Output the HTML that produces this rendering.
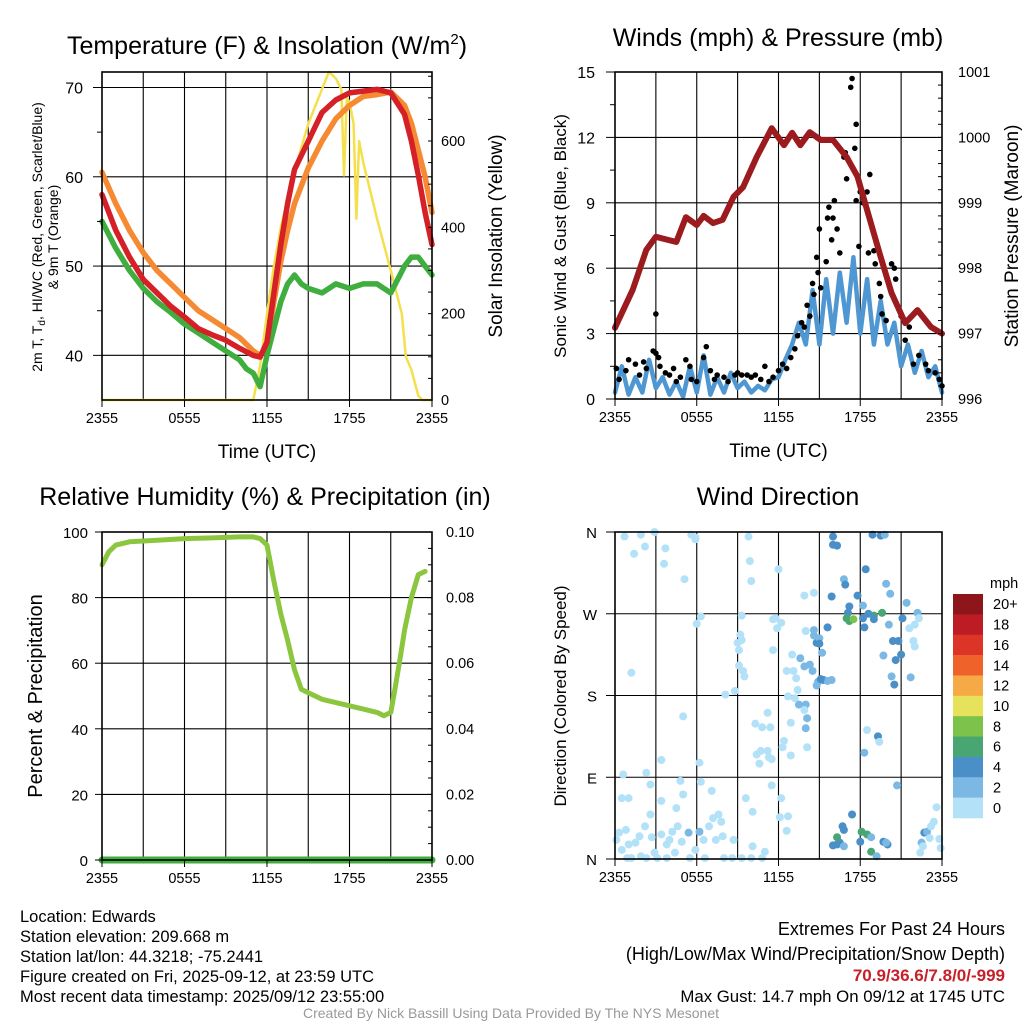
<!DOCTYPE html>
<html><head><meta charset="utf-8"><style>
html,body{margin:0;padding:0;background:#fff;}
svg{display:block;font-family:"Liberation Sans",sans-serif;}
</style></head><body>
<svg id="c" width="1024" height="1024" viewBox="0 0 1024 1024" xmlns="http://www.w3.org/2000/svg"></svg>
<script>
// ---------- DATA ----------
const timeTicks = ["2355","0555","1155","1755","2355"];
// Temperature panel (hours since 2355)
const redHours   = [0,1,2,3,4,5,6,7,8,9,10,11,11.5,12,12.5,13,13.5,14,15,16,17,18,19,20,21,22,22.5,23,23.5,24];
const redTemp    = [58,54,51,48.5,47,45.5,44.3,43,42.3,41.7,40.8,40,39.8,41.5,47,52.4,57,60.8,64,67.2,68.6,69.4,69.6,69.8,69.4,67,64,60.2,56,52.4];
const orangeHours= [0,1,2,3,4,5,6,7,8,9,10,11,11.5,12,12.5,13,13.5,14,15,16,17,18,19,20,21,22,22.5,23,23.5,24];
const orangeTemp = [60.5,57,54,51.5,49.5,48,46.5,45,44,43,42,40.5,40,41,46,50.5,54,57,61,64,66.5,68,69,69.2,69.5,68,66,63,60,56];
const greenHours = [0,1,2,3,4,5,6,7,8,9,10,10.5,11,11.5,12,12.5,13,13.5,14,14.5,15,16,17,18,19,20,21,22,22.5,23,23.5,24];
const greenTemp  = [55,52,49.5,47.5,46,44.8,43.5,42.5,41.5,40.5,39.5,38.5,38,36.5,40,43,46,48,49,48,47.5,47,48,47.5,48,48,47,50,51,51,50,49];
const solarHours = [0,11,11.5,12,12.5,13,14,15,16,16.5,17,17.4,17.6,17.8,18,18.3,18.5,18.7,19,20,21,21.8,22.1,22.5,23,23.3,24];
const solarVals  = [0,0,80,200,310,400,530,640,720,760,745,720,520,700,690,640,420,600,550,420,300,200,100,70,10,0,0];
const tempTicks  = [40,50,60,70];
const solarTicks = [0,200,400,600];
// Winds panel
const presHours = [0,1.3,2.3,3,4.5,5.2,6,6.5,7.2,7.9,8.7,9.4,10.4,11.5,12.4,13,13.6,14.3,15.1,16,17,17.8,18.5,19.5,20.3,21.3,22.2,23.2,24];
const presVals  = [997.09,997.67,998.28,998.48,998.4,998.78,998.66,998.8,998.69,998.74,999.09,999.24,999.7,1000.14,999.88,1000.07,999.88,1000.08,999.96,999.96,999.7,999.4,998.89,998.17,997.62,997.16,997.36,997.1,997.0];
const windHours = [0,0.5,1,1.5,2,2.5,3,3.5,4,4.5,5,5.5,6,6.5,7,7.5,8,8.5,9,9.5,10,10.5,11,11.5,12,12.5,13,13.5,14,14.5,15,15.5,16,16.5,17,17.5,18,18.5,19,19.5,20,20.5,21,21.5,22,22.5,23,23.5,24];
const windVals  = [0.3,1.5,0.2,1.0,0.3,1.8,0.5,1.0,0.2,0.8,0.1,1.5,0.3,2.0,0.2,1.0,0.3,1.2,0.5,0.8,0.3,0.6,0.4,0.9,1.0,1.8,2.5,3.5,2.5,5,2.5,5.5,3,5.8,3.5,6.5,3,5.5,2.5,4.5,2.5,3.5,1.5,2.5,1.2,2.2,1.0,1.5,0.3];
const gustHours = [0.1,0.3,0.8,1.0,1.5,1.8,2.1,2.3,2.8,3.0,3.0,3.2,3.3,3.7,4.0,4.3,4.5,4.8,5.2,5.5,5.6,6.0,6.5,6.7,7.0,7.3,7.5,8.0,8.3,8.8,9.0,9.3,9.7,10.0,10.3,10.7,11.0,11.3,11.6,12.0,12.3,12.6,12.9,13.2,13.4,13.7,13.9,14.1,14.3,14.5,14.6,14.8,14.9,15.0,15.1,15.5,15.6,15.7,15.9,16.0,16.1,16.3,16.5,16.8,16.9,17.0,17.3,17.4,17.6,17.7,17.7,17.9,18.0,18.2,18.5,18.7,18.6,19.0,19.1,19.4,19.5,19.6,19.9,20.3,20.5,20.6,21.0,21.3,21.6,21.9,22.3,22.8,23.0,23.5,23.8,24.0];
const gustVals  = [1.4,0.9,1.3,1.8,1.6,1.1,1.7,1.4,2.2,3.9,2.1,1.9,1.5,1.2,1.1,1.4,0.8,1.0,1.8,1.5,0.9,0.8,1.9,2.4,1.3,0.9,1.1,1.0,0.8,1.1,1.2,1.1,1.1,1.0,1.1,0.9,1.5,0.8,1.0,1.3,1.6,1.4,1.9,2.3,2.9,3.5,3.3,4.3,3.8,5.3,4.8,6.5,5.8,7.8,5.1,6.3,8.3,8.8,7.3,8.3,9.1,7.8,6.7,11.1,11.3,10.1,14.3,14.7,11.5,12.6,9.1,7.0,9.5,9.0,9.5,10.3,6.7,6.8,6.2,5.3,4.7,3.9,3.6,6.2,6.0,5.5,3.8,2.7,3.3,1.6,2.0,1.6,1.3,1.2,0.9,0.6];
const windTicks = [0,3,6,9,12,15];
const presTicks = [996,997,998,999,1000,1001];
// Humidity panel
const rhHours = [0,0.5,1,2,4,6,8,10,11,11.5,12,12.5,13,13.5,14,14.5,15,16,17,18,19,20,20.5,21,21.3,21.7,22,22.5,23,23.5];
const rhVals  = [90,94,96,97,97.5,98,98.2,98.5,98.5,98,96,85,75,67,58,52,51,49,48,47,46,45,44,45,52,62,70,80,87,88];
const precipHours = [0,24];
const precipVals  = [0,0];
const rhTicks = [0,20,40,60,80,100];
const precipTicks = ["0.00","0.02","0.04","0.06","0.08","0.10"];
// Wind direction panel
const dirLabels = ["N","E","S","W","N"];
const dirHours = [0.7,1.9,2.9,5.6,5.9,2.2,1.4,3.7,3.6,5.1,5.9,9.8,9.9,10,12.0,13.9,14.6,16.0,16.0,16.3,18.9,19.5,19.8,18.4,16.8,16.9,15.9,17.8,18.2,19.9,20.2,21.4,22.2,22.3,21.1,17.2,17.1,17.0,17.2,17.5,19.0,19.6,18.2,18.3,18.6,19.0,20.1,22.0,21.6,21.9,22.0,20.4,20.8,21.0,20.6,21.7,20.3,20.5,19.7,19.3,19.4,18.5,18.3,20.7,
13.6,13.9,14.3,14.5,14.8,14.6,15.6,14.6,15.0,15.0,15.2,15.3,15.6,15.9,14.8,14.9,15.1,13.1,13.3,13.4,12.7,13.5,14.0,14.1,14.0,13.9,12.9,14.1,12.4,12.3,12.9,11.2,10.3,10.8,11.4,10.4,10.7,11.2,11.3,10.6,11.5,13.2,12.6,11.6,12.2,11.6,11.9,11.8,14.0,13.0,
8.1,8.8,9.1,9.2,9.3,9.0,9.1,9.4,9.5,9.3,6.0,6.3,5.0,1.2,0.6,2.3,3.4,6.2,0.5,1.0,2.6,3.4,4.8,5.0,6.3,7.1,7.8,9.6,10.1,11.5,12.2,12.1,12.6,12.7,
0.1,0.3,0.5,0.8,1.0,1.2,1.5,1.8,1.9,2.2,2.6,2.7,2.9,3.1,3.4,3.8,4.0,4.2,4.4,4.5,4.6,4.9,5.5,5.4,6.2,6.6,6.9,7.2,7.4,7.6,8.0,8.6,8.7,9.3,10.0,10.1,10.8,11.0,0.9,2.3,3.8,5.9,6.5,7.9,
16.7,16.8,16.3,16.5,16.8,16.0,16.3,18.0,18.1,18.5,18.8,18.8,19.2,19.7,20.0,19.9,17.4,
22.5,22.7,22.9,23.2,23.4,23.6,23.8,23.9,22.4,22.6,23.1];
const dirDegs = [355,357,360,357,352,344,336,342,325,308,354,355,328,306,319,290,293,355,346,345,357,356,357,319,308,302,289,290,279,303,292,282,271,265,265,278,271,265,262,264,268,271,265,255,270,264,258,258,254,240,234,240,240,225,219,200,201,192,224,135,129,142,117,81,
221,212,214,207,238,246,255,252,243,237,227,197,196,197,191,195,198,207,199,186,179,170,170,155,144,164,150,123,130,123,114,161,149,145,145,115,119,119,112,105,110,177,207,230,260,264,254,265,251,225,
181,185,230,247,241,238,213,207,201,268,259,267,157,205,93,95,109,106,67,67,82,64,86,71,85,75,41,67,52,81,67,46,31,47,
21,29,10,32,16,1,18,25,3,36,49,24,7,1,27,16,21,30,7,56,36,19,1,29,30,1,36,45,21,49,1,1,21,1,1,14,1,8,1,1,1,10,21,25,
36,32,16,18,14,15,24,19,30,27,24,8,3,19,16,18,49,
18,29,30,36,41,57,22,12,7,14,23];
const dirSpeeds = [0,0,0,0,0,0,0,0,0,0,0,0,0,0,0,0,1,4,4,4,4,4,2,4,2,4,4,4,2,2,2,2,2,0,4,4,4,6,6,8,6,6,4,4,4,4,2,0,0,0,0,4,4,4,4,2,2,4,2,4,0,0,2,2,
2,2,2,2,4,2,4,2,2,4,2,4,2,2,2,2,4,0,0,0,0,2,2,2,2,0,0,0,0,0,0,0,0,0,0,0,0,0,0,0,0,0,0,0,0,0,0,0,0,0,
0,0,0,0,0,0,0,0,0,0,0,0,0,0,0,0,0,0,0,0,0,0,0,0,0,0,0,0,0,0,0,0,0,0,
0,0,0,0,0,0,0,0,0,0,0,0,0,0,0,0,0,0,0,0,0,0,0,2,2,0,0,0,0,0,0,0,0,0,0,0,0,0,0,0,0,0,1,0,
4,4,4,4,2,4,6,4,6,6,2,6,2,4,4,2,4,
2,4,2,0,0,0,0,0,0,0,0];
const speedLabels = ["20+","18","16","14","12","10","8","6","4","2","0"];
const speedColors = ["#b3e1f8","#7bb9e4","#4a8fc7","#48a672","#7cc24b","#e7e25b","#f6aa46","#ef6229","#dc3427","#bd1c24","#8e151a"];

// ---------- DRAW ----------
const NS="http://www.w3.org/2000/svg";
const svg=document.getElementById('c');
function el(tag,attrs,parent){const e=document.createElementNS(NS,tag);for(const k in attrs)e.setAttribute(k,attrs[k]);(parent||svg).appendChild(e);return e;}
function txt(s,attrs,parent){const e=el('text',attrs,parent);e.textContent=s;return e;}
function lin(a,b,c,d){return (v)=>c+(v-a)*(d-c)/(b-a);}

function frame(name){
  const g=el('g',{});
  
  
  return g;
}
function grid(g,x0,x1,y0,y1,ys){
  for(let i=1;i<8;i++){const x=x0+(x1-x0)*i/8;el('line',{x1:x,x2:x,y1:y0,y2:y1,stroke:'#000','stroke-width':1.1},g);}
  ys.forEach(y=>el('line',{x1:x0,x2:x1,y1:y,y2:y,stroke:'#000','stroke-width':1.1},g));
}
function border(g,x0,x1,y0,y1){el('rect',{x:x0,y:y0,width:x1-x0,height:y1-y0,fill:'none',stroke:'#000','stroke-width':1.6},g);}
function timeAxis(g,x0,x1,y1,title){
  const ax=el('g',{},g);
  
  
  timeTicks.forEach((t,i)=>{const x=x0+(x1-x0)*i/4;txt(t,{x:x,y:y1+23,'font-size':14.5,'text-anchor':'middle'},ax);el('line',{x1:x,x2:x,y1:y1,y2:y1+7,stroke:'#000'},ax);});
  if(title){const t=txt('Time (UTC)',{x:(x0+x1)/2,y:y1+58,'font-size':19,'text-anchor':'middle'},ax);}
}
function path(g,xs,ys,X,Y,color,w,name){
  let d='';xs.forEach((h,i)=>{d+=(i?'L':'M')+X(h).toFixed(1)+','+Y(ys[i]).toFixed(1);});
  const p=el('path',{d:d,fill:'none',stroke:color,'stroke-width':w,'stroke-linejoin':'round','stroke-linecap':'round'},g);
  
  
  return p;
}
function rotText(s,x,y,size,g,name){const t=txt(s,{x:0,y:0,'font-size':size,'text-anchor':'middle',transform:`translate(${x},${y}) rotate(-90)`},g);return t;}
function title(s,x,y,name){const t=txt(s,{x:x,y:y,'font-size':25,'text-anchor':'middle'});return t;}

// Panel 1
(function(){
  const x0=102,x1=432,y0=72,y1=400;
  const X=lin(0,24,x0,x1), Y=lin(35,70,400,87.5), YS=lin(0,600,400,141);
  const g=frame('temperature-panel');
  grid(g,x0,x1,y0,y1,tempTicks.map(Y));
  path(g,solarHours,solarVals,X,YS,'#f4e04d',2.5,'solar-line');
  path(g,orangeHours,orangeTemp,X,Y,'#f58a33',5.5,'temp-9m-line');
  path(g,greenHours,greenTemp,X,Y,'#3fae3f',5.5,'dewpoint-line');
  path(g,redHours,redTemp,X,Y,'#d42026',5.5,'temp-2m-line');
  border(g,x0,x1,y0,y1);
  tempTicks.forEach(v=>{txt(String(v),{x:x0-19,y:Y(v)+6,'font-size':16,'text-anchor':'end'},g);el('line',{x1:x0-9,x2:x0,y1:Y(v),y2:Y(v),stroke:'#000'},g);});
  [45,55,65].forEach(v=>el('line',{x1:x0-5,x2:x0,y1:Y(v),y2:Y(v),stroke:'#000'},g));
  solarTicks.forEach(v=>{txt(String(v),{x:x1+9,y:YS(v)+5,'font-size':14.5},g);});
  for(let v=0;v<=760;v+=50){el('line',{x1:x1-4,x2:x1,y1:YS(v),y2:YS(v),stroke:'#000'},g);}
  timeAxis(g,x0,x1,y1,true);
  const t=txt('',{x:0,y:0,'font-size':14,'text-anchor':'middle',transform:'translate(42,237) rotate(-90)'},g);
  
  
  t.innerHTML='2m T, T<tspan font-size="10" dy="3">d</tspan><tspan dy="-3">, HI/WC (Red, Green, Scarlet/Blue)</tspan>';
  const t2=txt('& 9m T (Orange)',{x:0,y:0,'font-size':14,'text-anchor':'middle',transform:'translate(58,237) rotate(-90)'},g);
  
  
  rotText('Solar Insolation (Yellow)',502,236,19,g,'y2-axis-title');
  const tt=title('',267,54,'temperature-title');
  tt.innerHTML='Temperature (F) &amp; Insolation (W/m<tspan font-size="15" dy="-10">2</tspan><tspan dy="10">)</tspan>';
})();

// Panel 2
(function(){
  const x0=615,x1=942,y0=72,y1=399;
  const X=lin(0,24,x0,x1), Y=lin(0,15,y1,y0), YP=lin(996,1001,y1,y0);
  const g=frame('winds-panel');
  grid(g,x0,x1,y0,y1,windTicks.slice(1,5).map(Y));
  path(g,windHours,windVals,X,Y,'#4f97d3',4.5,'wind-line');
  gustHours.forEach((h,i)=>{const c=el('circle',{cx:X(h),cy:Y(gustVals[i]),r:2.8,fill:'#000'},g);});
  path(g,presHours,presVals,X,YP,'#9b1b1e',6,'pressure-line');
  border(g,x0,x1,y0,y1);
  windTicks.forEach(v=>{txt(String(v),{x:x0-20,y:Y(v)+6,'font-size':16,'text-anchor':'end'},g);el('line',{x1:x0-9,x2:x0,y1:Y(v),y2:Y(v),stroke:'#000'},g);});
  for(let v=1.5;v<15;v+=3){el('line',{x1:x0-5,x2:x0,y1:Y(v),y2:Y(v),stroke:'#000'},g);}
  presTicks.forEach(v=>{txt(String(v),{x:x1+16,y:YP(v)+5,'font-size':14.5},g);});
  for(let v=996;v<=1001;v+=0.2){el('line',{x1:x1-4,x2:x1,y1:YP(v),y2:YP(v),stroke:'#000'},g);}
  timeAxis(g,x0,x1,y1,true);
  rotText('Sonic Wind & Gust (Blue, Black)',566,236,17,g,'y-axis-title');
  rotText('Station Pressure (Maroon)',1018,236,19,g,'y2-axis-title');
  title('Winds (mph) & Pressure (mb)',778,46,'winds-title');
})();

// Panel 3
(function(){
  const x0=102,x1=432,y0=532,y1=860;
  const X=lin(0,24,x0,x1), Y=lin(0,100,y1,y0);
  const YP=lin(0,0.1,y1,y0);
  const g=frame('humidity-panel');
  grid(g,x0,x1,y0,y1,rhTicks.slice(1,5).map(Y));
  path(g,rhHours,rhVals,X,Y,'#8cc63f',5,'rh-line');
  path(g,precipHours,precipVals,X,YP,'#3fae3f',7,'precip-line');
  border(g,x0,x1,y0,y1);
  rhTicks.forEach(v=>{txt(String(v),{x:x0-14,y:Y(v)+6,'font-size':15,'text-anchor':'end'},g);el('line',{x1:x0-7,x2:x0,y1:Y(v),y2:Y(v),stroke:'#000'},g);});
  precipTicks.forEach((s,i)=>{txt(s,{x:x1+14,y:Y(i*20)+5,'font-size':14.5},g);});
  for(let v=0;v<=100;v+=5){el('line',{x1:x1-4,x2:x1,y1:Y(v),y2:Y(v),stroke:'#000'},g);}
  timeAxis(g,x0,x1,y1,false);
  rotText('Percent & Precipitation',42,696,20,g,'y-axis-title');
  title('Relative Humidity (%) & Precipitation (in)',265,505,'humidity-title');
})();

// Panel 4
(function(){
  const x0=615,x1=942,y0=532,y1=859;
  const X=lin(0,24,x0,x1), Y=lin(0,360,y1,y0);
  const g=frame('wind-direction-panel');
  grid(g,x0,x1,y0,y1,[90,180,270].map(Y));
  dirHours.forEach((h,i)=>{const s=dirSpeeds[i];const ci=Math.min(10,Math.floor(s/2));const c=el('circle',{cx:X(h),cy:Y(dirDegs[i]),r:4,fill:speedColors[ci]},g);});
  border(g,x0,x1,y0,y1);
  dirLabels.forEach((s,i)=>{txt(s,{x:x0-18,y:Y(i*90)+6,'font-size':15,'text-anchor':'end'},g);el('line',{x1:x0-9,x2:x0,y1:Y(i*90),y2:Y(i*90),stroke:'#000'},g);});
  timeAxis(g,x0,x1,y1,false);
  rotText('Direction (Colored By Speed)',566,696,17,g,'y-axis-title');
  title('Wind Direction',778,505,'wind-direction-title');
  const lg=el('g',{});
  
  
  txt('mph',{x:990,y:588,'font-size':14.5},lg);
  const bh=(818-594)/11;
  speedLabels.forEach((s,i)=>{
    const r=el('rect',{x:953,y:594+i*bh,width:30,height:bh+0.3,fill:speedColors[10-i]},lg);
    
    
    txt(s,{x:993,y:594+i*bh+bh/2+5,'font-size':14.5},lg);
  });
})();

// Footer text
(function(){
  const g=el('g',{});
  
  
  ["Location: Edwards","Station elevation: 209.668 m","Station lat/lon: 44.3218; -75.2441","Figure created on Fri, 2025-09-12, at 23:59 UTC","Most recent data timestamp: 2025/09/12 23:55:00"].forEach((s,i)=>txt(s,{x:20,y:922+i*20,'font-size':16.5},g));
  const r=el('g',{});
  
  
  txt('Extremes For Past 24 Hours',{x:1005,y:935,'font-size':18,'text-anchor':'end'},r);
  txt('(High/Low/Max Wind/Precipitation/Snow Depth)',{x:1005,y:960,'font-size':18,'text-anchor':'end'},r);
  txt('70.9/36.6/7.8/0/-999',{x:1005,y:981,'font-size':17,'text-anchor':'end',fill:'#c8202a','font-weight':'bold'},r);
  txt('Max Gust: 14.7 mph On 09/12 at 1745 UTC',{x:1005,y:1002,'font-size':16.8,'text-anchor':'end'},r);
  const c=txt('Created By Nick Bassill Using Data Provided By The NYS Mesonet',{x:511,y:1018,'font-size':14,'text-anchor':'middle',fill:'#999'});
  
  
})();
</script>
</body></html>
